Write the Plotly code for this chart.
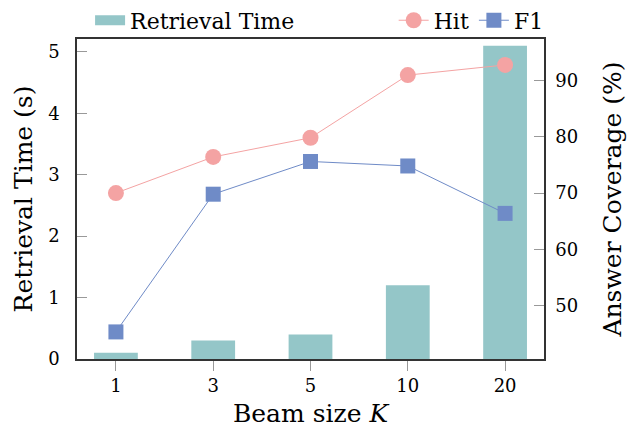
import plotly.graph_objects as go

beam_sizes = ["1", "3", "5", "10", "20"]
retrieval_time = [0.1, 0.3, 0.4, 1.2, 5.1]
hit = [70.0, 76.4, 79.8, 90.9, 92.7]
f1 = [45.4, 69.8, 75.6, 74.8, 66.4]

teal = "#94C6C8"
pink = "#F4A3A3"
blue = "#6F8BC7"
FONT = "DejaVu Serif"

fig = go.Figure()
fig.add_trace(go.Bar(x=beam_sizes, y=retrieval_time, marker=dict(color=teal, line=dict(width=0)),
                     width=0.45, showlegend=False, name="Retrieval Time"))
# legend swatch for the bars
fig.add_trace(go.Scatter(x=[None], y=[None], mode="lines", line=dict(color=teal, width=14),
                         name="Retrieval Time", legend="legend"))
fig.add_trace(go.Scatter(x=beam_sizes, y=hit, yaxis="y2", mode="lines+markers", name="Hit",
                         line=dict(color=pink, width=1), marker=dict(symbol="circle", size=16, color=pink),
                         legend="legend2"))
fig.add_trace(go.Scatter(x=beam_sizes, y=f1, yaxis="y2", mode="lines+markers", name="F1",
                         line=dict(color=blue, width=1), marker=dict(symbol="square", size=15, color=blue),
                         legend="legend2"))

fig.update_layout(
    width=630, height=431,
    margin=dict(l=77, r=86, t=39, b=72, autoexpand=False),
    plot_bgcolor="white", paper_bgcolor="white",
    font=dict(family=FONT, size=18, color="black"),
    xaxis=dict(type="category", range=[-0.4, 4.4], showline=True, linecolor="#333", linewidth=1.5,
               mirror=True, ticks="outside", ticklen=10, tickcolor="#999", showgrid=False,
               automargin=False,
               title=dict(text="Beam size <i>K</i>", font=dict(size=25), standoff=9)),
    yaxis=dict(range=[0, 5.21], tickvals=[0, 1, 2, 3, 4, 5], showline=True, linecolor="#333",
               linewidth=1.5, ticks="inside", ticklen=10, tickcolor="#999", showgrid=False,
               zeroline=False, ticklabelstandoff=12, automargin=False,
               title=dict(text="Retrieval Time (s)", font=dict(size=25), standoff=8)),
    yaxis2=dict(range=[40.6, 97.3], tickvals=[50, 60, 70, 80, 90], overlaying="y", side="right",
                showline=True, linecolor="#333", linewidth=1.5, ticks="inside", ticklen=10,
                tickcolor="#999", showgrid=False, zeroline=False, ticklabelstandoff=6,
                automargin=False,
                title=dict(text="Answer Coverage (%)", font=dict(size=25), standoff=26)),
    legend=dict(x=0.028, y=1.058, xanchor="left", yanchor="middle", orientation="h",
                bgcolor="rgba(0,0,0,0)", font=dict(size=22)),
    legend2=dict(x=1.01, y=1.058, xanchor="right", yanchor="middle", orientation="h",
                 bgcolor="rgba(0,0,0,0)", font=dict(size=22)),
)

fig.write_html("out.html", config={"displayModeBar": False},
               post_script="document.body.style.margin='0';")
